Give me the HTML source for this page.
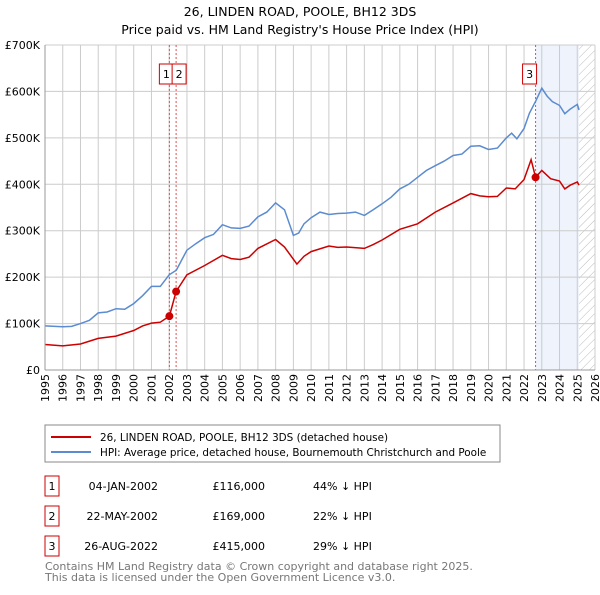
<!DOCTYPE html>
<html><head><meta charset="utf-8"><style>
body{margin:0;width:600px;height:590px;background:#fff;font-family:"Liberation Sans","DejaVu Sans",sans-serif;overflow:hidden}
svg text{font-family:"DejaVu Sans","Liberation Sans",sans-serif}
</style></head><body>
<svg id="chart" width="600" height="590" xmlns="http://www.w3.org/2000/svg">
<text x="300" y="16" text-anchor="middle" font-size="12.5">26, LINDEN ROAD, POOLE, BH12 3DS</text>
<text x="300" y="34" text-anchor="middle" font-size="12.5">Price paid vs. HM Land Registry's House Price Index (HPI)</text>
<g id="grid"></g><g id="marks"></g><g id="axes"></g>
<g>
<rect x="45" y="425" width="455" height="37" fill="#fff" stroke="#888"/>
<line x1="51" y1="437" x2="91" y2="437" stroke="#cc0000" stroke-width="2"/>
<text x="100" y="441" font-size="10.4">26, LINDEN ROAD, POOLE, BH12 3DS (detached house)</text>
<line x1="51" y1="452" x2="91" y2="452" stroke="#5b8bd0" stroke-width="2"/>
<text x="100" y="456" font-size="10.4">HPI: Average price, detached house, Bournemouth Christchurch and Poole</text>
</g>
<g font-size="11">
<rect x="45" y="476" width="14" height="20" fill="#fff" stroke="#cc0000"/><text x="52" y="490" text-anchor="middle">1</text>
<text x="158" y="490" text-anchor="end">04-JAN-2002</text><text x="265" y="490" text-anchor="end">£116,000</text><text x="313" y="490">44% ↓ HPI</text>
<rect x="45" y="506" width="14" height="20" fill="#fff" stroke="#cc0000"/><text x="52" y="520" text-anchor="middle">2</text>
<text x="158" y="520" text-anchor="end">22-MAY-2002</text><text x="265" y="520" text-anchor="end">£169,000</text><text x="313" y="520">22% ↓ HPI</text>
<rect x="45" y="536" width="14" height="20" fill="#fff" stroke="#cc0000"/><text x="52" y="550" text-anchor="middle">3</text>
<text x="158" y="550" text-anchor="end">26-AUG-2022</text><text x="265" y="550" text-anchor="end">£415,000</text><text x="313" y="550">29% ↓ HPI</text>
</g>
<text x="45" y="570" font-size="11" fill="#777">Contains HM Land Registry data © Crown copyright and database right 2025.</text>
<text x="45" y="581" font-size="11" fill="#777">This data is licensed under the Open Government Licence v3.0.</text>
</svg>
<script>
const hpiYears=[1995,1996,1996.5,1997,1997.5,1998,1998.5,1999,1999.5,2000,2000.5,2001,2001.5,2002,2002.4,2003,2003.5,2004,2004.5,2005,2005.5,2006,2006.5,2007,2007.5,2008,2008.5,2009,2009.3,2009.6,2010,2010.5,2011,2011.5,2012,2012.5,2013,2013.5,2014,2014.5,2015,2015.5,2016,2016.5,2017,2017.5,2018,2018.5,2019,2019.5,2020,2020.5,2021,2021.3,2021.6,2022,2022.3,2022.67,2023,2023.3,2023.6,2024,2024.3,2024.6,2025,2025.1];
const hpiValues=[95,93,94,100,107,123,125,132,131,143,160,180,180,205,215,258,272,285,292,313,306,305,310,330,340,360,345,290,295,315,328,340,335,337,338,340,333,345,358,372,390,400,415,430,440,450,462,465,482,483,475,478,500,510,498,520,553,580,607,590,578,570,552,562,572,560];
const priceYears=[1995,1996,1997,1998,1999,2000,2000.5,2001,2001.5,2002.01,2002.39,2003,2004,2005,2005.5,2006,2006.5,2007,2008,2008.5,2009.2,2009.6,2010,2011,2011.5,2012,2013,2013.5,2014,2015,2016,2017,2018,2019,2019.5,2020,2020.5,2021,2021.5,2022,2022.4,2022.65,2023,2023.5,2024,2024.3,2024.6,2025,2025.1];
const priceValues=[55,52,56,68,73,85,95,101,103,116,169,205,225,247,240,238,243,262,281,265,228,245,255,267,264,265,262,270,280,303,315,340,360,380,375,373,374,392,390,410,453,415,430,412,407,390,398,405,398];
const saleYears=[2002.01,2002.39,2022.65];
const saleValues=[116,169,415];
const saleLabels=["1","2","3"];
const yTicks=[0,100,200,300,400,500,600,700];
const yTickLabels=["£0","£100K","£200K","£300K","£400K","£500K","£600K","£700K"];
const xTicks=[];for(let y=1995;y<=2026;y++)xTicks.push(y);

const X0=45,X1=595,Y0=370,Y1=45;
const xs=v=>X0+(v-1995)/31*(X1-X0);
const ys=v=>Y0-v/700*(Y0-Y1);
const NS="http://www.w3.org/2000/svg";
function mk(tag,attrs,parent){const e=document.createElementNS(NS,tag);for(const k in attrs)e.setAttribute(k,attrs[k]);parent.appendChild(e);return e;}
const grid=document.getElementById('grid'),marks=document.getElementById('marks'),axes=document.getElementById('axes');
let band=mk('rect',{x:xs(2022.65),y:Y1,width:xs(2025.1)-xs(2022.65),height:Y0-Y1,fill:'#eef3fc'},grid);


let defs=mk('defs',{},grid);
let pat=mk('pattern',{id:'hatch',width:6,height:6,patternUnits:'userSpaceOnUse',patternTransform:'rotate(45)'},defs);
mk('line',{x1:0,y1:0,x2:0,y2:6,stroke:'#bbb','stroke-width':1},pat);
let hatch=mk('rect',{x:xs(2025.1),y:Y1,width:X1-xs(2025.1),height:Y0-Y1,fill:'url(#hatch)'},grid);


xTicks.forEach(t=>{
 mk('line',{x1:xs(t),y1:Y1,x2:xs(t),y2:Y0,stroke:'#ccc','stroke-width':1},grid);
 const x=xs(t)+4,y=374;
 const tx=mk('text',{x:x,y:y,'text-anchor':'end','font-size':11,transform:`rotate(-90 ${x} ${y})`},axes);tx.textContent=t;
 
 
});
yTicks.forEach((t,i)=>{
 mk('line',{x1:X0,y1:ys(t),x2:X1,y2:ys(t),stroke:'#ccc','stroke-width':1},grid);
 const tx=mk('text',{x:40,y:ys(t)+4,'text-anchor':'end','font-size':11},axes);tx.textContent=yTickLabels[i];
 
 
});
mk('line',{x1:X0,y1:Y0,x2:X1,y2:Y0,stroke:'#999'},axes);
mk('line',{x1:X0,y1:Y1,x2:X0,y2:Y0,stroke:'#999'},axes);
saleYears.forEach((s,i)=>{
 const l=mk('line',{x1:xs(s),y1:Y1,x2:xs(s),y2:Y0,stroke:'#e05050','stroke-width':1,'stroke-dasharray':'2,2'},marks);
 
 
});
const path=(xsA,vsA)=>xsA.map((x,i)=>(i?'L':'M')+xs(x).toFixed(1)+','+ys(vsA[i]).toFixed(1)).join('');
const hp=mk('path',{d:path(hpiYears,hpiValues),fill:'none',stroke:'#5b8bd0','stroke-width':1.5},marks);


const pp=mk('path',{d:path(priceYears,priceValues),fill:'none',stroke:'#cc0000','stroke-width':1.5},marks);


saleYears.forEach((s,i)=>{
 const c=mk('circle',{cx:xs(s),cy:ys(saleValues[i]),r:4,fill:'#cc0000'},marks);
 
 
 const bx=i==0?xs(s)-10:i==1?xs(s)-4:xs(s)-13;
 const r=mk('rect',{x:bx,y:64,width:14,height:20,fill:'#fff',stroke:'#cc0000'},marks);
 
 
 const t=mk('text',{x:bx+7,y:78,'text-anchor':'middle','font-size':11},marks);t.textContent=saleLabels[i];
 
 
});
</script>
</body></html>
